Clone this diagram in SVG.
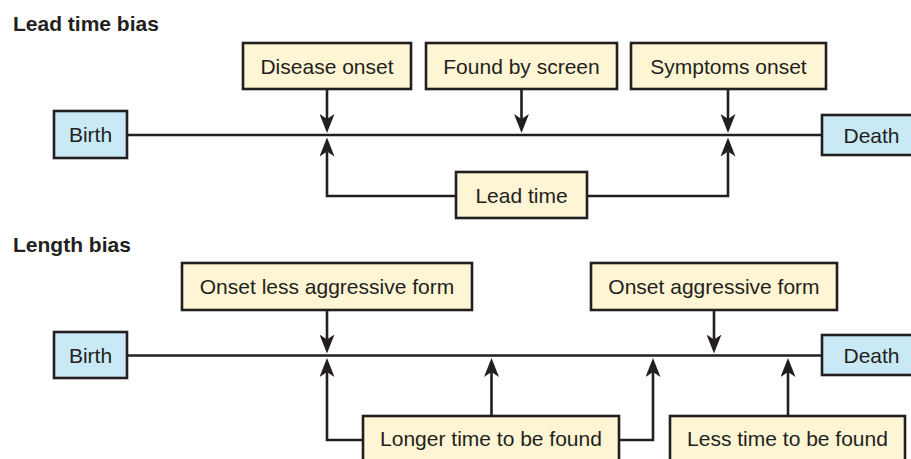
<svg xmlns="http://www.w3.org/2000/svg" width="911" height="459" viewBox="0 0 911 459">
<style>
.box{fill:#fdf5d3;stroke:#231f20;stroke-width:2.6}
.end{fill:#c9e9f7;stroke:#231f20;stroke-width:2.6}
.t{font-family:"Liberation Sans",Arial,sans-serif;font-size:21px;fill:#231f20;text-anchor:middle}
.h{font-family:"Liberation Sans",Arial,sans-serif;font-size:21px;font-weight:bold;fill:#231f20}
.ln{fill:none;stroke:#231f20;stroke-width:2.6}
.ar{fill:none;stroke:#231f20;stroke-width:2.6;marker-end:url(#ah)}
</style>
<defs>
<marker id="ah" markerUnits="userSpaceOnUse" viewBox="0 0 19 15" markerWidth="19" markerHeight="15" refX="5" refY="7.5" orient="auto">
<path d="M0,0 L19,7.5 L0,15 L5,7.5 Z" fill="#231f20"/>
</marker>
</defs>
<rect width="911" height="459" fill="#fff"/>
<text class="h" x="13" y="31">Lead time bias</text>
<text class="h" x="13" y="252">Length bias</text>
<g id="connectors">
<path class="ln" d="M127,135 H822"/>
<path class="ar" d="M327,89 V119"/>
<path class="ar" d="M521.5,89 V119"/>
<path class="ar" d="M728,89 V119"/>
<path class="ar" d="M456,196 H327 V151.5"/>
<path class="ar" d="M587,196 H728 V151.5"/>
<path class="ln" d="M127,355.5 H822"/>
<path class="ar" d="M327,310 V339.5"/>
<path class="ar" d="M714,310 V339.5"/>
<path class="ar" d="M363,440 H327 V372"/>
<path class="ar" d="M491.5,416 V372"/>
<path class="ar" d="M619,440 H653 V372"/>
<path class="ar" d="M788,416 V372"/>
</g>
<g id="birth1"><rect class="end" x="54" y="111" width="73" height="47"/><text class="t" x="90.5" y="142">Birth</text></g>
<g id="death1"><rect class="end" x="822" y="115" width="100" height="40"/><text class="t" x="871.5" y="142.5">Death</text></g>
<g id="disease-onset"><rect class="box" x="243" y="43" width="168" height="46"/><text class="t" x="327" y="73.5">Disease onset</text></g>
<g id="found-by-screen"><rect class="box" x="426" y="43" width="191" height="46"/><text class="t" x="521.5" y="73.5">Found by screen</text></g>
<g id="symptoms-onset"><rect class="box" x="631" y="43" width="195" height="46"/><text class="t" x="728.5" y="73.5">Symptoms onset</text></g>
<g id="lead-time"><rect class="box" x="456" y="172" width="131" height="46"/><text class="t" x="521.5" y="202.5">Lead time</text></g>
<g id="birth2"><rect class="end" x="54" y="332" width="73" height="46"/><text class="t" x="90.5" y="362.5">Birth</text></g>
<g id="death2"><rect class="end" x="822" y="335" width="100" height="40"/><text class="t" x="871.5" y="362.5">Death</text></g>
<g id="onset-less"><rect class="box" x="182" y="263" width="290" height="47"/><text class="t" x="327" y="294">Onset less aggressive form</text></g>
<g id="onset-aggr"><rect class="box" x="591" y="263" width="246" height="47"/><text class="t" x="714" y="294">Onset aggressive form</text></g>
<g id="longer-time"><rect class="box" x="363" y="416" width="256" height="50"/><text class="t" x="491" y="446">Longer time to be found</text></g>
<g id="less-time"><rect class="box" x="670" y="416" width="235" height="50"/><text class="t" x="787.5" y="446">Less time to be found</text></g>
</svg>
